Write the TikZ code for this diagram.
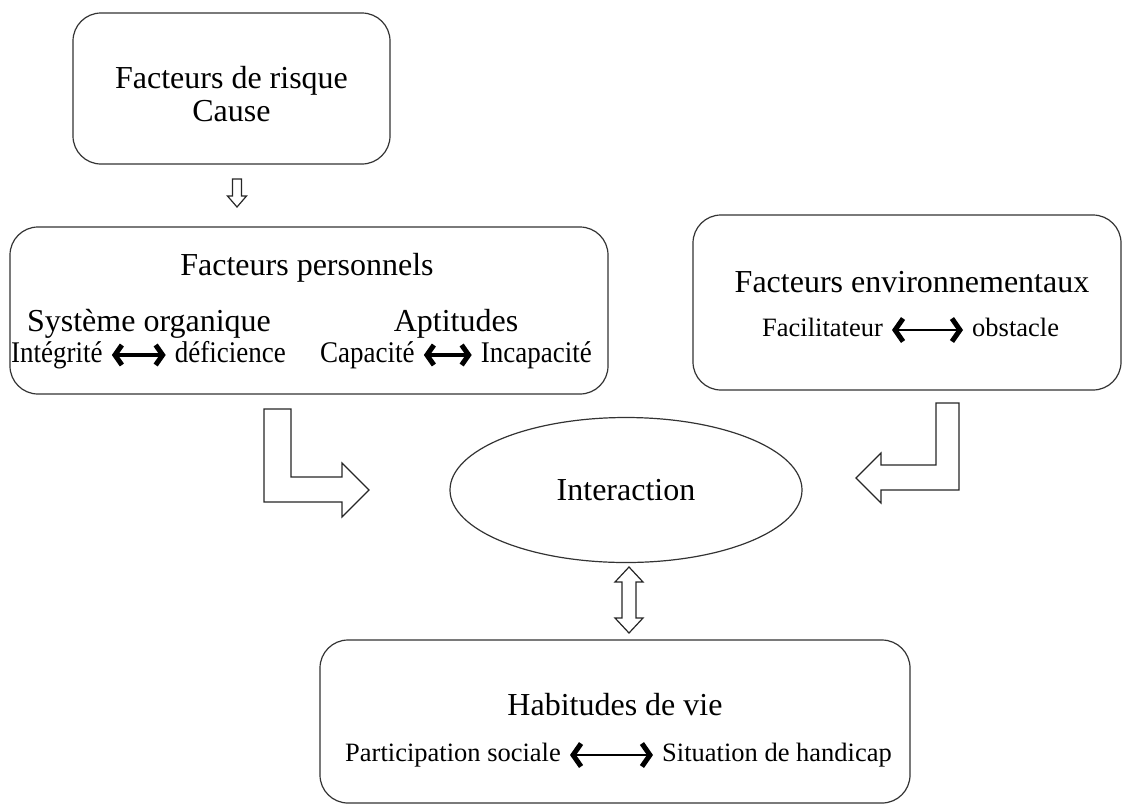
\documentclass[tikz,border=0pt]{standalone}
\usepackage{fontspec}
\setmainfont{Liberation Serif}
\newfontfamily\etroite[FakeStretch=0.9]{Liberation Serif}
\usetikzlibrary{shapes.geometric,arrows.meta}

\begin{document}
\begin{tikzpicture}[x=1pt,y=-1pt,
        boite/.style={draw=black!80,line width=1.2pt,rounded corners=28pt,inner sep=0pt},
        titre/.style={font=\fontsize{32}{33}\selectfont,inner sep=0pt},
        petit/.style={font=\fontsize{26.5}{29}\selectfont,inner sep=0pt,text height=19pt,text depth=6pt},
        serre/.style={font=\etroite\fontsize{30}{32}\selectfont,inner sep=0pt,text height=21pt,text depth=7pt},
        creux/.style={draw=black!85,line width=1.2pt,fill=white,line join=miter},
        fleche/.style={line width=2.2pt,shorten <=9pt,shorten >=9pt,
            {Straight Barb[length=8pt,width=23pt,line width=5pt]}-{Straight Barb[length=8pt,width=23pt,line width=5pt]}},
        fleche courte/.style={line width=3.5pt,shorten <=9pt,shorten >=9pt,
            {Straight Barb[length=7pt,width=20pt,line width=5pt]}-{Straight Barb[length=7pt,width=20pt,line width=5pt]}}]
    \useasboundingbox (0,0) rectangle (1123,807);

    \node[boite,minimum width=317pt,minimum height=151pt] (risque) at (231.5,88.5) {};
    \node[titre,align=center] (risquetxt) at (231.5,94) {Facteurs de risque\\Cause};

    \node[boite,minimum width=598pt,minimum height=167pt] (perso) at (309,310.5) {};
    \node[titre] (persotxt) at (307,268) {Facteurs personnels};
    \node[titre] (sysorg) at (149,324) {Système organique};
    \node[titre] (aptit) at (456,324) {Aptitudes};
    \node[serre,anchor=west] (integ) at (11,355) {Intégrité};
    \node[serre,anchor=east] (defic) at (286,355) {déficience};
    \node[serre,anchor=west] (capa) at (320,355) {Capacité};
    \node[serre,anchor=east] (incap) at (592,355) {Incapacité};
    \draw[fleche courte] (integ) -- (defic);
    \draw[fleche courte] (capa) -- (incap);

    \node[boite,minimum width=428pt,minimum height=175pt] (envir) at (907,302.5) {};
    \node[titre] (envirtxt) at (912,282) {Facteurs environnementaux};
    \node[petit,anchor=east] (facil) at (883,330) {Facilitateur};
    \node[petit,anchor=west] (obst) at (972,330) {obstacle};
    \draw[fleche] (facil) -- (obst);

    \node[draw=black!80,line width=1.2pt,ellipse,minimum width=352pt,minimum height=145pt,titre] (inter) at (626,490) {Interaction};

    \node[boite,minimum width=590pt,minimum height=163pt] (habit) at (615,721.5) {};
    \node[titre] (habittxt) at (615,705) {Habitudes de vie};
    \node[petit,anchor=west] (partic) at (345,755) {Participation sociale};
    \node[petit,anchor=east] (situ) at (892,755) {Situation de handicap};
    \draw[fleche] (partic) -- (situ);

    \draw[creux] (232.5,179) -- (241.5,179) -- (241.5,196) -- (246.5,196) -- (237,207) -- (227.5,196) -- (232.5,196) -- cycle;
    \draw[creux] (264,409) -- (291,409) -- (291,477) -- (342,477) -- (342,463) -- (369,490) -- (342,517) -- (342,502) -- (264,502) -- cycle;
    \draw[creux] (936,403) -- (959,403) -- (959,490) -- (881,490) -- (881,503) -- (856,478) -- (881,453) -- (881,465) -- (936,465) -- cycle;
    \draw[creux] (629,567) -- (643,582) -- (636,582) -- (636,618) -- (643,618) -- (629,633) -- (615,618) -- (622,618) -- (622,582) -- (615,582) -- cycle;
\end{tikzpicture}
\end{document}
